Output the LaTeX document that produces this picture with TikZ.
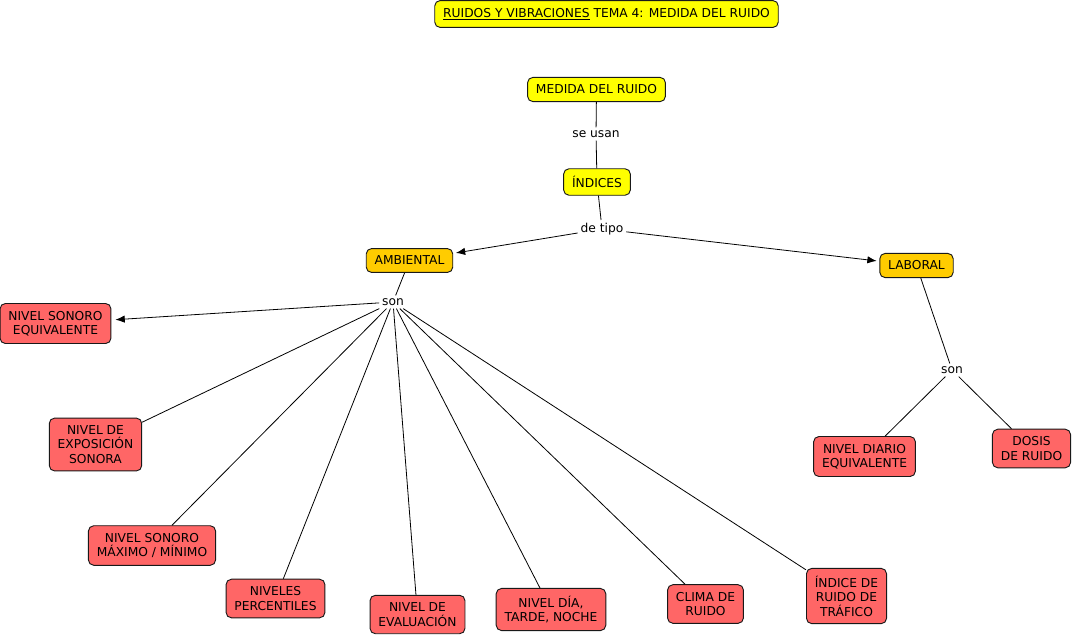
\documentclass[tikz,border=0pt]{standalone}
\usepackage{fontspec}
\setmainfont{DejaVu Sans}
\usetikzlibrary{arrows.meta}
\definecolor{mapyellow}{HTML}{FFFF00}
\definecolor{mapgold}{HTML}{FFCC00}
\definecolor{mapred}{HTML}{FF6666}
\begin{document}
\begin{tikzpicture}[x=0.75pt,y=-0.75pt,
  concept/.style={draw=black!90,line width=0.7pt,rounded corners=4pt,align=center,
    inner xsep=6.3pt,inner ysep=5.6pt,font=\fontsize{9.2}{10.8}\selectfont},
  yel/.style={concept,fill=mapyellow},
  gold/.style={concept,fill=mapgold},
  red/.style={concept,fill=mapred},
  link/.style={inner sep=2pt,font=\fontsize{9.2}{10.8}\selectfont},
  every path/.style={line width=0.6pt},
  >={Latex[length=7pt,width=5.5pt]}]
\useasboundingbox (0,0) rectangle (1073,637);
\node[yel](title) at (606.5,14) {\underline{RUIDOS Y VIBRACIONES} TEMA 4: MEDIDA DEL RUIDO};
\node[yel](medida) at (596.5,89.5) {MEDIDA DEL RUIDO};
\node[link](usan) at (596,134) {se usan};
\node[yel](indices) at (597,182) {ÍNDICES};
\node[link](tipo) at (602,229) {de tipo};
\node[gold](amb) at (409.5,260.5) {AMBIENTAL};
\node[gold](lab) at (916.5,265.5) {LABORAL};
\node[link](sonA) at (393,302) {son};
\node[link](sonL) at (952,370) {son};
\node[red](nseq) at (55.5,323.5) {NIVEL SONORO\\EQUIVALENTE};
\node[red](nexp) at (95.5,444.5) {NIVEL DE\\EXPOSICIÓN\\SONORA};
\node[red](nmax) at (152,545.5) {NIVEL SONORO\\MÁXIMO / MÍNIMO};
\node[red](nper) at (275.5,598.5) {NIVELES\\PERCENTILES};
\node[red](neva) at (417.5,614.5) {NIVEL DE\\EVALUACIÓN};
\node[red](ndtn) at (551,609.5) {NIVEL DÍA,\\TARDE, NOCHE};
\node[red](clima) at (705.5,604) {CLIMA DE\\RUIDO};
\node[red](itraf) at (846.5,596) {ÍNDICE DE\\RUIDO DE\\TRÁFICO};
\node[red](ndia) at (864.5,456.5) {NIVEL DIARIO\\EQUIVALENTE};
\node[red](dosis) at (1031.5,448.5) {DOSIS\\DE RUIDO};
% enlaces
\draw(medida)--(usan)--(indices)--(tipo);
\draw[->,shorten >=2pt](tipo)--(amb);
\draw[->,shorten >=2pt](tipo)--(lab);
\draw(amb)--(sonA);
\draw[->,shorten >=3pt](sonA)--(nseq);
\draw(sonA)--(nexp) (sonA)--(nmax) (sonA)--(nper) (sonA)--(neva)
  (sonA)--(ndtn) (sonA)--(clima) (sonA)--(itraf);
\draw(lab)--(sonL)--(ndia) (sonL)--(dosis);
\end{tikzpicture}
\end{document}
